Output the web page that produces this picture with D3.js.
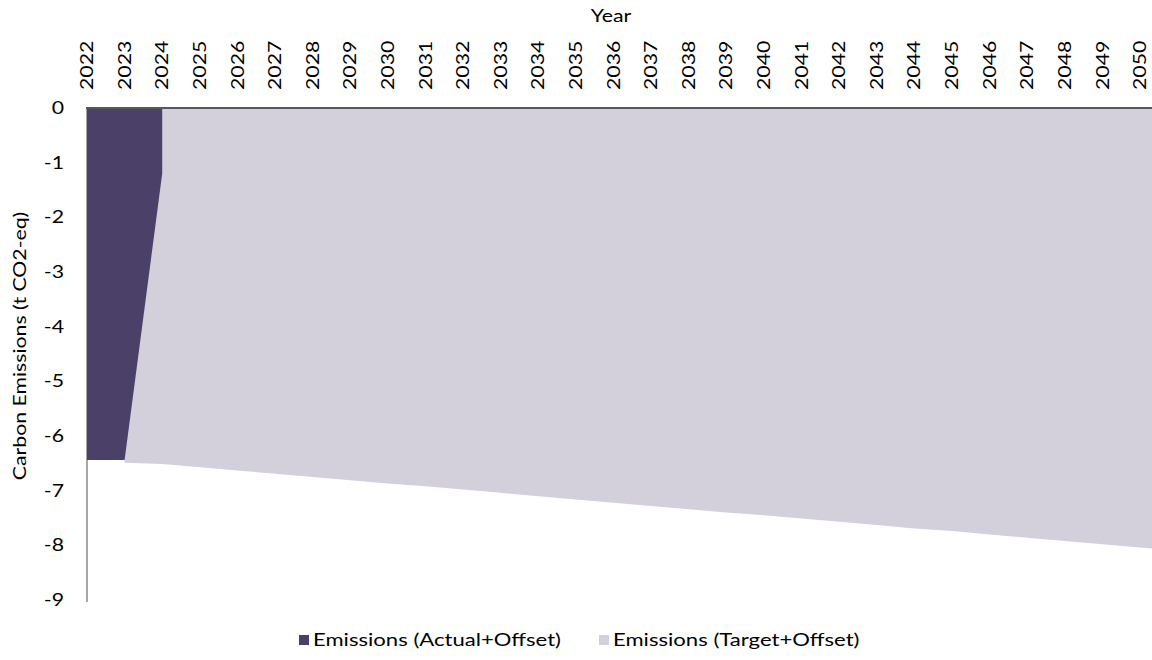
<!DOCTYPE html>
<html>
<head>
<meta charset="utf-8">
<script src="https://cdn.jsdelivr.net/npm/d3@7"></script>
<style>
  body { margin: 0; background: #fff; }
  svg { font-family: Lato, "Noto Sans", sans-serif; }
</style>
</head>
<body>
<div id="viz"></div>
<script>
// data
var years = [2022, 2023, 2024, 2025, 2026, 2027, 2028, 2029, 2030, 2031, 2032, 2033, 2034, 2035, 2036,
             2037, 2038, 2039, 2040, 2041, 2042, 2043, 2044, 2045, 2046, 2047, 2048, 2049, 2050, 2051];
var tickYears = years.slice(0, 29);
var actualYears = [2022, 2023, 2024, 2024];
var actualValues = [-6.44, -6.44, -1.2, 0];
var targetYears = years.slice(1);
var targetValues = [-6.49, -6.51, -6.57, -6.63, -6.69, -6.75, -6.81, -6.87, -6.92, -6.98, -7.04, -7.10, -7.16,
                    -7.22, -7.28, -7.34, -7.40, -7.45, -7.51, -7.57, -7.63, -7.69, -7.74, -7.80, -7.86, -7.92,
                    -7.98, -8.04, -8.10];
var yTicks = [0, -1, -2, -3, -4, -5, -6, -7, -8, -9];
var seriesNames = ["Emissions (Actual+Offset)", "Emissions (Target+Offset)"];
var colors = ["#4b4068", "#d3d0dc"];

var width = 1152, height = 660;
var fs = "17px", sx = 1.25;   // text is wide in the original, stretch along reading direction

var svg = d3.select("#viz").append("svg")
    .attr("width", width)
    .attr("height", height);

var x = d3.scaleLinear().domain([2022, 2050]).range([87, 1140]);
var y = d3.scaleLinear().domain([0, -9]).range([108, 600]);

// left axis line (drawn under the areas)
svg.append("line")
    .attr("x1", x(2022)).attr("x2", x(2022))
    .attr("y1", y(0)).attr("y2", y(-9) + 2)
    .attr("stroke", "#a6a6a6").attr("stroke-width", 2);

var area = d3.area()
    .x(function(d) { return x(d[0]); })
    .y0(y(0))
    .y1(function(d) { return y(d[1]); });

svg.append("path")
    .datum(targetYears.map(function(yr, i) { return [yr, targetValues[i]]; }))
    .attr("fill", colors[1])
    .attr("d", area);

svg.append("path")
    .datum(actualYears.map(function(yr, i) { return [yr, actualValues[i]]; }))
    .attr("fill", colors[0])
    .attr("d", area);

// top axis line
svg.append("line")
    .attr("x1", x(2022) - 1).attr("x2", width)
    .attr("y1", y(0)).attr("y2", y(0))
    .attr("stroke", "#595959").attr("stroke-width", 2);

// year labels, rotated
svg.selectAll(".xlab")
    .data(tickYears)
  .enter().append("text")
    .attr("class", "xlab")
    .attr("transform", function(d) { return "translate(" + x(d) + ",90) rotate(-90) scale(" + sx + ",1)"; })
    .attr("dy", "0.36em")
    .attr("text-anchor", "start")
    .style("font-size", fs)
    .text(function(d) { return d; });

// y tick labels
svg.selectAll(".ylab")
    .data(yTicks)
  .enter().append("text")
    .attr("class", "ylab")
    .attr("transform", function(d) { return "translate(64," + y(d) + ") scale(" + sx + ",1)"; })
    .attr("dy", "0.36em")
    .attr("text-anchor", "end")
    .style("font-size", fs)
    .text(function(d) { return d; });

svg.append("text")
    .attr("transform", "translate(611,22) scale(" + sx + ",1)")
    .attr("text-anchor", "middle")
    .style("font-size", fs)
    .text("Year");

svg.append("text")
    .attr("transform", "translate(26,346) rotate(-90) scale(" + sx + ",1)")
    .attr("text-anchor", "middle")
    .style("font-size", fs)
    .text("Carbon Emissions (t CO2-eq)");

// legend
var legend = svg.append("g").attr("transform", "translate(0,640)");
var legX = [299, 599];
seriesNames.forEach(function(name, i) {
  legend.append("rect")
    .attr("x", legX[i]).attr("y", -5)
    .attr("width", 10).attr("height", 10)
    .attr("fill", colors[i]);
  legend.append("text")
    .attr("transform", "translate(" + (legX[i] + 14) + ",0) scale(1.3,1)")
    .attr("dy", "0.36em")
    .style("font-size", fs)
    .text(name);
});
</script>
</body>
</html>
